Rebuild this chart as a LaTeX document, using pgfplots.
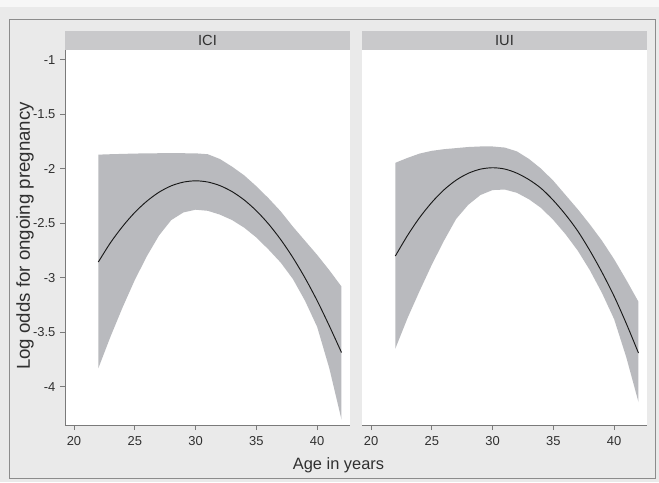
\documentclass[border=0pt]{standalone}
\usepackage{fontspec}
\setmainfont{Liberation Sans}
\usepackage{pgfplots}
\pgfplotsset{compat=1.18}
\definecolor{bg}{HTML}{EAEAEA}
\definecolor{strip}{HTML}{C9C9CB}
\definecolor{band}{HTML}{B9BABE}
\definecolor{axgray}{HTML}{7A7A7A}
\definecolor{txt}{HTML}{303030}

% fitted log odds by age
\pgfplotstableread{
age  ici     iui
22  -2.855  -2.800
23  -2.678  -2.612
24  -2.528  -2.447
25  -2.400  -2.308
26  -2.296  -2.193
27  -2.214  -2.104
28  -2.156  -2.041
29  -2.122  -2.003
30  -2.110  -1.990
31  -2.121  -2.002
32  -2.154  -2.040
33  -2.209  -2.100
34  -2.286  -2.180
35  -2.385  -2.290
36  -2.506  -2.420
37  -2.649  -2.570
38  -2.814  -2.750
39  -3.001  -2.950
40  -3.210  -3.170
41  -3.441  -3.420
42  -3.685  -3.690
}\fit

% confidence band outline: upper limit 22->42, then lower limit 42->22
\pgfplotstableread{
age  ici     iui
22  -1.870  -1.945
23  -1.866  -1.900
24  -1.863  -1.860
25  -1.860  -1.835
26  -1.858  -1.820
27  -1.857  -1.810
28  -1.857  -1.800
29  -1.857  -1.795
30  -1.858  -1.795
31  -1.866  -1.805
32  -1.910  -1.840
33  -1.980  -1.910
34  -2.060  -2.000
35  -2.160  -2.110
36  -2.270  -2.240
37  -2.390  -2.370
38  -2.530  -2.510
39  -2.660  -2.660
40  -2.790  -2.830
41  -2.930  -3.020
42  -3.080  -3.220
42  -4.300  -4.140
41  -3.830  -3.730
40  -3.450  -3.380
39  -3.210  -3.140
38  -3.010  -2.930
37  -2.860  -2.750
36  -2.740  -2.600
35  -2.630  -2.470
34  -2.540  -2.360
33  -2.470  -2.280
32  -2.420  -2.220
31  -2.385  -2.190
30  -2.375  -2.195
29  -2.400  -2.240
28  -2.470  -2.330
27  -2.610  -2.460
26  -2.800  -2.660
25  -3.020  -2.880
24  -3.270  -3.120
23  -3.540  -3.370
22  -3.830  -3.650
}\ci

\pgfplotsset{
  panel/.style={
    scale only axis, width=213.75pt, height=281.25pt,
    xmin=19.26, xmax=42.7, ymin=-4.35, ymax=-0.91,
    axis background/.style={fill=white},
    axis x line*=bottom,
    axis line style={axgray, line width=0.6pt, -},
    tick align=outside, major tick length=3.75pt,
    tick style={axgray, line width=0.6pt},
    xtick={20,25,30,35,40},
    /pgf/number format/assume math mode=true,
    xticklabel style={font=\fontsize{9.7}{10}\selectfont, text=txt, yshift=-1.5pt},
    yticklabel style={font=\fontsize{9.7}{10}\selectfont, text=txt},
  },
}

\begin{document}
\begin{tikzpicture}
\begin{scope}[x=0.75pt, y=-0.75pt]
\fill[bg] (0,0) rectangle (659,482);
\fill[white!60!bg] (0,0) rectangle (659,7);
\draw[black!45, line width=0.75pt] (9,19) rectangle (655,478);
\fill[strip] (65,31) rectangle (350,50);
\fill[strip] (362,31) rectangle (647,50);
\end{scope}

\begin{axis}[panel, at={(48.75pt,-318.75pt)}, anchor=south west,
  axis y line*=left,
  ytick={-4,-3.5,-3,-2.5,-2,-1.5,-1},
  yticklabels={-4,-3.5,-3,-2.5,-2,-1.5,-1}]
  \addplot[fill=band, draw=none] table[x=age, y=ici] {\ci};
  \addplot[black!90, line width=0.7pt, smooth] table[x=age, y=ici] {\fit};
\end{axis}

\begin{axis}[panel, at={(271.5pt,-318.75pt)}, anchor=south west,
  axis y line=none]
  \addplot[fill=band, draw=none] table[x=age, y=iui] {\ci};
  \addplot[black!90, line width=0.7pt, smooth] table[x=age, y=iui] {\fit};
\end{axis}

\begin{scope}[x=0.75pt, y=-0.75pt]
\node[font=\fontsize{11}{12}\selectfont, text=txt] at (207.5,40.5) {ICI};
\node[font=\fontsize{11}{12}\selectfont, text=txt] at (504.5,40.5) {IUI};
\node[font=\fontsize{12.3}{13}\selectfont, text=txt] at (338.5,465) {Age in years};
\node[font=\fontsize{14}{15}\selectfont, text=txt, rotate=90] at (25,236) {Log odds for ongoing pregnancy};
\end{scope}
\end{tikzpicture}
\end{document}
